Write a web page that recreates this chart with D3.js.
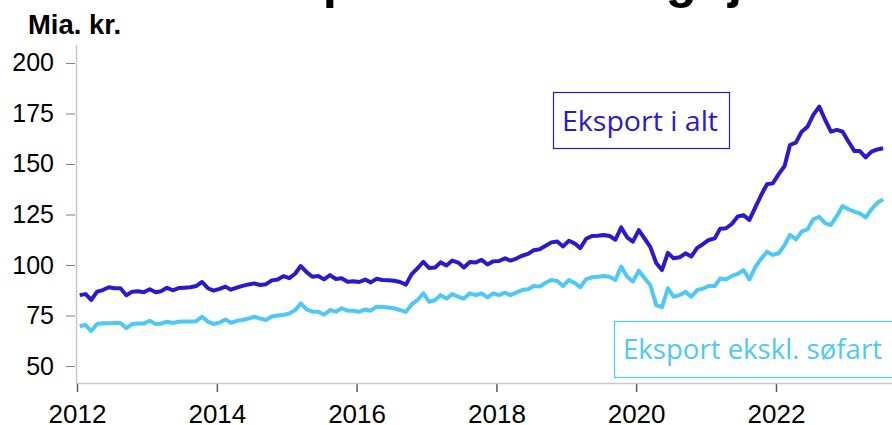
<!DOCTYPE html>
<html>
<head>
<meta charset="utf-8">
<script src="https://cdn.jsdelivr.net/npm/d3@7"></script>
<style>
  body { margin: 0; background: #fff; }
  svg { display: block; }
</style>
</head>
<body>
<div id="chart"></div>
<script>
// monthly values, Jan 2012 - Jul 2023, mia. kr.
const startMonth = new Date(2012, 0, 15);
const eksportIAlt = [
  85.1, 85.6, 82.7, 86.8, 87.6, 89.0, 88.5, 88.5, 85.0, 86.8, 87.0, 86.5,
  88.0, 86.5, 87.0, 88.7, 87.5, 88.6, 88.8, 89.0, 89.6, 91.6, 88.5, 87.3,
  88.2, 89.3, 87.8, 88.8, 89.7, 90.4, 90.9, 90.1, 90.5, 92.4, 92.8, 94.5,
  93.5, 95.8, 99.5, 96.5, 94.2, 94.6, 92.9, 95.0, 93.1, 93.4, 91.7, 92.0,
  91.6, 92.8, 91.4, 93.2, 92.6, 92.4, 92.2, 91.6, 90.3, 95.5, 98.4, 101.6,
  98.5, 98.8, 101.3, 99.8, 102.2, 101.2, 98.8, 101.5, 101.3, 102.5, 100.3, 101.8,
  102.0, 103.3, 102.2, 103.2, 104.6, 105.5, 107.3, 107.8, 109.5, 111.2, 111.6, 109.2,
  112.0, 110.6, 108.3, 113.0, 114.4, 114.5, 114.9, 114.4, 112.5, 118.6, 113.7, 111.6,
  117.3, 113.0, 109.0, 101.0, 97.5, 106.0, 103.3, 103.8, 105.8, 104.2, 108.5, 110.3,
  112.4, 113.2, 118.0, 118.2, 120.3, 124.0, 124.7, 122.3, 128.5, 134.5, 140.0, 140.4,
  145.0, 149.0, 159.4, 160.6, 166.0, 168.5, 174.3, 178.4, 171.8, 166.0, 166.9, 166.0,
  161.0, 156.4, 156.4, 153.3, 156.1, 157.2, 157.8
];
const eksportEksklSoefart = [
  69.8, 70.3, 67.3, 70.8, 71.2, 71.2, 71.3, 71.3, 68.7, 70.8, 71.0, 71.0,
  72.4, 70.8, 71.0, 71.9, 71.3, 71.9, 72.0, 72.0, 72.2, 74.4, 72.0, 70.8,
  71.5, 73.0, 71.4, 72.4, 72.8, 73.5, 74.4, 73.5, 72.8, 74.5, 75.0, 75.3,
  76.0, 77.7, 81.0, 78.0, 76.9, 76.9, 75.4, 77.7, 76.9, 78.6, 77.4, 77.4,
  76.9, 78.0, 77.4, 79.4, 79.2, 79.0, 78.6, 77.7, 76.8, 80.5, 82.7, 86.0,
  81.8, 82.7, 85.1, 83.4, 85.6, 84.3, 83.4, 86.0, 85.1, 86.0, 84.0, 86.0,
  85.1, 86.3, 85.1, 86.3, 87.6, 88.0, 89.6, 89.3, 91.2, 92.6, 92.1, 89.6,
  92.6, 91.0, 89.0, 93.0, 93.9, 94.2, 94.6, 94.2, 92.6, 99.2, 94.2, 91.8,
  97.2, 93.4, 90.1, 80.2, 79.1, 88.5, 84.3, 85.1, 86.8, 84.3, 87.6, 88.3,
  89.6, 89.6, 93.3, 92.9, 94.6, 95.6, 97.5, 92.9, 99.0, 103.0, 106.6, 105.0,
  105.8, 109.9, 114.9, 112.7, 116.5, 117.7, 122.6, 123.9, 120.6, 119.8, 124.3, 129.2,
  127.6, 126.4, 125.6, 123.6, 127.6, 130.8, 132.5
];
const yTicks = [50, 75, 100, 125, 150, 175, 200];
const seriesNames = ["Eksport i alt", "Eksport ekskl. søfart"];
const titleText = "Eksport af varer og tjenester";
const unitText = "Mia. kr.";

function draw_chart() {
  var width = 892, height = 425;
  const darkBlue = "#2b1acb", lightBlue = "#4dc8f7";

  const svg = d3.select("#chart").append("svg")
    .attr("width", width)
    .attr("height", height);

  const x = d3.scaleTime()
    .domain([new Date(2012, 0, 1), new Date(2022, 0, 1)])
    .range([77, 776]);
  x.domain([x.domain()[0], x.invert(width)]).range([77, width]);

  const y = d3.scaleLinear()
    .domain([41.6, 208.9])
    .range([383, 45]);

  const rows = eksportIAlt.map((v, i) => ({
    date: d3.timeMonth.offset(startMonth, i),
    alt: v,
    ekskl: eksportEksklSoefart[i]
  }));

  // title sits mostly above the visible area, only descenders show
  svg.append("text")
    .attr("x", 232)
    .attr("y", -3)
    .attr("font-family", "Liberation Sans, Arial, sans-serif")
    .attr("font-weight", "bold")
    .attr("font-size", 51)
    .text(titleText);

  svg.append("text")
    .attr("x", 28)
    .attr("y", 34)
    .attr("font-family", "Liberation Sans Narrow, Arial Narrow, Liberation Sans, sans-serif")
    .attr("font-weight", "bold")
    .attr("font-size", 27)
    .attr("textLength", 93)
    .attr("lengthAdjust", "spacingAndGlyphs")
    .text(unitText);

  const yAxis = svg.append("g")
    .attr("transform", "translate(76,0)")
    .call(d3.axisLeft(y).tickValues(yTicks).tickSize(9).tickPadding(13));
  yAxis.select(".domain").remove();
  yAxis.selectAll(".tick line").attr("stroke", "#7f7f7f").attr("transform", "translate(-1,0)");
  yAxis.selectAll("text")
    .attr("font-family", "Liberation Sans, Arial, sans-serif")
    .attr("font-size", 25)
    .attr("fill", "#000");

  const xAxis = svg.append("g")
    .attr("transform", "translate(0,383)")
    .call(d3.axisBottom(x).ticks(d3.timeYear.every(2)).tickFormat(d3.timeFormat("%Y")).tickSize(9).tickPadding(13));
  xAxis.select(".domain").remove();
  xAxis.selectAll(".tick line").attr("stroke", "#595959").attr("stroke-width", 1.5);
  xAxis.selectAll("text")
    .attr("font-family", "Liberation Sans, Arial, sans-serif")
    .attr("font-size", 26)
    .attr("fill", "#000");

  svg.append("line")
    .attr("x1", 76.5).attr("x2", 76.5)
    .attr("y1", 45).attr("y2", 383)
    .attr("stroke", "#c8c8c8").attr("stroke-width", 1.5);
  svg.append("line")
    .attr("x1", 76).attr("x2", width)
    .attr("y1", 383.5).attr("y2", 383.5)
    .attr("stroke", "#c8c8c8").attr("stroke-width", 1.5);

  const lineAlt = d3.line().x(d => x(d.date)).y(d => y(d.alt));
  const lineEkskl = d3.line().x(d => x(d.date)).y(d => y(d.ekskl));

  svg.append("path")
    .datum(rows)
    .attr("fill", "none")
    .attr("stroke", lightBlue)
    .attr("stroke-width", 4)
    .attr("stroke-linejoin", "round")
    .attr("d", lineEkskl);

  svg.append("path")
    .datum(rows)
    .attr("fill", "none")
    .attr("stroke", darkBlue)
    .attr("stroke-width", 4)
    .attr("stroke-linejoin", "round")
    .attr("d", lineAlt);

  // labels in boxes
  const labels = [
    { name: seriesNames[0], color: darkBlue, box: [553.5, 92.5, 176, 56], tx: 562, ty: 131, tw: 156 },
    { name: seriesNames[1], color: lightBlue, box: [614.5, 321.5, 290, 56], tx: 623, ty: 359, tw: 259 }
  ];
  const lab = svg.append("g").selectAll("g")
    .data(labels)
    .join("g");
  lab.append("rect")
    .attr("x", d => d.box[0]).attr("y", d => d.box[1])
    .attr("width", d => d.box[2]).attr("height", d => d.box[3])
    .attr("fill", "#fff")
    .attr("stroke", d => d.color)
    .attr("stroke-width", 1.2);
  lab.append("text")
    .attr("x", d => d.tx).attr("y", d => d.ty)
    .attr("font-family", "Open Sans, Noto Sans, sans-serif")
    .attr("font-size", 27)
    .attr("fill", d => d.color)
    .attr("textLength", d => d.tw)
    .attr("lengthAdjust", "spacingAndGlyphs")
    .text(d => d.name);
}
draw_chart();
</script>
</body>
</html>
